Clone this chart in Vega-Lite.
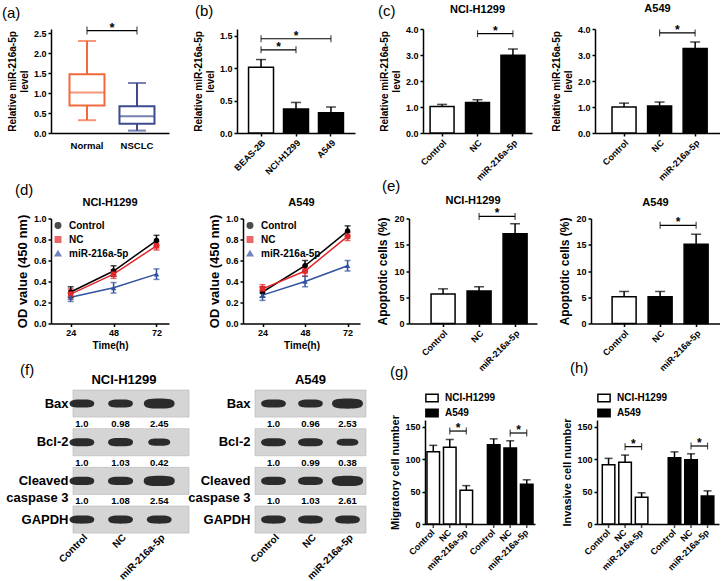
{
"background": "white",
"padding": {"left": 2, "top": 3, "right": 0, "bottom": 0},
"config": {
 "font": "Liberation Sans",
 "view": {"stroke": null},
 "axis": {"grid": false, "labelOverlap": false, "domainColor": "black", "domainWidth": 1.5, "tickColor": "black", "tickWidth": 1.5, "tickSize": 3, "labelColor": "black", "labelFont": "Liberation Sans", "labelFontSize": 9, "labelFontWeight": "bold", "labelPadding": 2, "titleColor": "black", "titleFont": "Liberation Sans", "titleFontSize": 10, "titleFontWeight": "bold", "titlePadding": 4},
 "title": {"font": "Liberation Sans", "fontSize": 11, "fontWeight": "bold", "color": "black", "frame": "group"},
 "legend": {"labelFont": "Liberation Sans", "labelColor": "black"}
},
"datasets": {
 "a_box": [
  {"group": "Normal", "min": 0.32, "q1": 0.69, "median": 1.01, "q3": 1.47, "max": 2.3},
  {"group": "NSCLC", "min": 0.06, "q1": 0.23, "median": 0.42, "q3": 0.67, "max": 1.25}
 ],
 "b_bar": [
  {"cell": "BEAS-2B", "mean": 1.01, "upper": 1.13},
  {"cell": "NCI-H1299", "mean": 0.37, "upper": 0.47},
  {"cell": "A549", "mean": 0.31, "upper": 0.40}
 ],
 "c_bar": [
  {"cell": "NCI-H1299", "group": "Control", "mean": 1.02, "upper": 1.1},
  {"cell": "NCI-H1299", "group": "NC", "mean": 1.17, "upper": 1.28},
  {"cell": "NCI-H1299", "group": "miR-216a-5p", "mean": 2.99, "upper": 3.23},
  {"cell": "A549", "group": "Control", "mean": 1.0, "upper": 1.15},
  {"cell": "A549", "group": "NC", "mean": 1.04, "upper": 1.19},
  {"cell": "A549", "group": "miR-216a-5p", "mean": 3.25, "upper": 3.5}
 ],
 "d_line": [
  {"cell": "NCI-H1299", "group": "Control", "time": 24, "mean": 0.30, "sd": 0.05},
  {"cell": "NCI-H1299", "group": "Control", "time": 48, "mean": 0.50, "sd": 0.05},
  {"cell": "NCI-H1299", "group": "Control", "time": 72, "mean": 0.79, "sd": 0.05},
  {"cell": "NCI-H1299", "group": "NC", "time": 24, "mean": 0.28, "sd": 0.05},
  {"cell": "NCI-H1299", "group": "NC", "time": 48, "mean": 0.47, "sd": 0.04},
  {"cell": "NCI-H1299", "group": "NC", "time": 72, "mean": 0.74, "sd": 0.04},
  {"cell": "NCI-H1299", "group": "miR-216a-5p", "time": 24, "mean": 0.25, "sd": 0.04},
  {"cell": "NCI-H1299", "group": "miR-216a-5p", "time": 48, "mean": 0.34, "sd": 0.05},
  {"cell": "NCI-H1299", "group": "miR-216a-5p", "time": 72, "mean": 0.47, "sd": 0.05},
  {"cell": "A549", "group": "Control", "time": 24, "mean": 0.30, "sd": 0.05},
  {"cell": "A549", "group": "Control", "time": 48, "mean": 0.55, "sd": 0.05},
  {"cell": "A549", "group": "Control", "time": 72, "mean": 0.88, "sd": 0.05},
  {"cell": "A549", "group": "NC", "time": 24, "mean": 0.33, "sd": 0.04},
  {"cell": "A549", "group": "NC", "time": 48, "mean": 0.50, "sd": 0.05},
  {"cell": "A549", "group": "NC", "time": 72, "mean": 0.83, "sd": 0.04},
  {"cell": "A549", "group": "miR-216a-5p", "time": 24, "mean": 0.27, "sd": 0.05},
  {"cell": "A549", "group": "miR-216a-5p", "time": 48, "mean": 0.40, "sd": 0.05},
  {"cell": "A549", "group": "miR-216a-5p", "time": 72, "mean": 0.55, "sd": 0.05}
 ],
 "e_bar": [
  {"cell": "NCI-H1299", "group": "Control", "mean": 5.6, "upper": 6.6},
  {"cell": "NCI-H1299", "group": "NC", "mean": 6.2, "upper": 7.0},
  {"cell": "NCI-H1299", "group": "miR-216a-5p", "mean": 17.1, "upper": 19.0},
  {"cell": "A549", "group": "Control", "mean": 5.1, "upper": 6.1},
  {"cell": "A549", "group": "NC", "mean": 5.1, "upper": 6.1},
  {"cell": "A549", "group": "miR-216a-5p", "mean": 15.1, "upper": 17.0}
 ],
 "f_blot": [
  {"cell": "NCI-H1299", "protein": "Bax", "lane": "Control", "ratio": 1.0, "label": "1.0"},
  {"cell": "NCI-H1299", "protein": "Bax", "lane": "NC", "ratio": 0.98, "label": "0.98"},
  {"cell": "NCI-H1299", "protein": "Bax", "lane": "miR-216a-5p", "ratio": 2.45, "label": "2.45"},
  {"cell": "NCI-H1299", "protein": "Bcl-2", "lane": "Control", "ratio": 1.0, "label": "1.0"},
  {"cell": "NCI-H1299", "protein": "Bcl-2", "lane": "NC", "ratio": 1.03, "label": "1.03"},
  {"cell": "NCI-H1299", "protein": "Bcl-2", "lane": "miR-216a-5p", "ratio": 0.42, "label": "0.42"},
  {"cell": "NCI-H1299", "protein": "Cleaved caspase 3", "lane": "Control", "ratio": 1.0, "label": "1.0"},
  {"cell": "NCI-H1299", "protein": "Cleaved caspase 3", "lane": "NC", "ratio": 1.08, "label": "1.08"},
  {"cell": "NCI-H1299", "protein": "Cleaved caspase 3", "lane": "miR-216a-5p", "ratio": 2.54, "label": "2.54"},
  {"cell": "NCI-H1299", "protein": "GAPDH", "lane": "Control", "ratio": 1.0, "label": ""},
  {"cell": "NCI-H1299", "protein": "GAPDH", "lane": "NC", "ratio": 1.0, "label": ""},
  {"cell": "NCI-H1299", "protein": "GAPDH", "lane": "miR-216a-5p", "ratio": 1.0, "label": ""},
  {"cell": "A549", "protein": "Bax", "lane": "Control", "ratio": 1.0, "label": "1.0"},
  {"cell": "A549", "protein": "Bax", "lane": "NC", "ratio": 0.96, "label": "0.96"},
  {"cell": "A549", "protein": "Bax", "lane": "miR-216a-5p", "ratio": 2.53, "label": "2.53"},
  {"cell": "A549", "protein": "Bcl-2", "lane": "Control", "ratio": 1.0, "label": "1.0"},
  {"cell": "A549", "protein": "Bcl-2", "lane": "NC", "ratio": 0.99, "label": "0.99"},
  {"cell": "A549", "protein": "Bcl-2", "lane": "miR-216a-5p", "ratio": 0.38, "label": "0.38"},
  {"cell": "A549", "protein": "Cleaved caspase 3", "lane": "Control", "ratio": 1.0, "label": "1.0"},
  {"cell": "A549", "protein": "Cleaved caspase 3", "lane": "NC", "ratio": 1.03, "label": "1.03"},
  {"cell": "A549", "protein": "Cleaved caspase 3", "lane": "miR-216a-5p", "ratio": 2.61, "label": "2.61"},
  {"cell": "A549", "protein": "GAPDH", "lane": "Control", "ratio": 1.0, "label": ""},
  {"cell": "A549", "protein": "GAPDH", "lane": "NC", "ratio": 1.0, "label": ""},
  {"cell": "A549", "protein": "GAPDH", "lane": "miR-216a-5p", "ratio": 1.0, "label": ""}
 ],
 "g_bar": [
  {"line": "NCI-H1299", "group": "Control", "mean": 111, "upper": 121},
  {"line": "NCI-H1299", "group": "NC", "mean": 118, "upper": 130},
  {"line": "NCI-H1299", "group": "miR-216a-5p", "mean": 52, "upper": 59},
  {"line": "A549", "group": "Control", "mean": 122, "upper": 131},
  {"line": "A549", "group": "NC", "mean": 117, "upper": 128},
  {"line": "A549", "group": "miR-216a-5p", "mean": 61, "upper": 68}
 ],
 "g_sig": [
  {"line": "NCI-H1299", "group": "NC", "y": 143},
  {"line": "NCI-H1299", "group": "miR-216a-5p", "y": 143},
  {"line": "A549", "group": "NC", "y": 140},
  {"line": "A549", "group": "miR-216a-5p", "y": 140}
 ],
 "h_bar": [
  {"line": "NCI-H1299", "group": "Control", "mean": 91, "upper": 101},
  {"line": "NCI-H1299", "group": "NC", "mean": 95, "upper": 106},
  {"line": "NCI-H1299", "group": "miR-216a-5p", "mean": 41, "upper": 48},
  {"line": "A549", "group": "Control", "mean": 102, "upper": 111},
  {"line": "A549", "group": "NC", "mean": 99, "upper": 108},
  {"line": "A549", "group": "miR-216a-5p", "mean": 43, "upper": 51}
 ],
 "h_sig": [
  {"line": "NCI-H1299", "group": "NC", "y": 119},
  {"line": "NCI-H1299", "group": "miR-216a-5p", "y": 119},
  {"line": "A549", "group": "NC", "y": 120},
  {"line": "A549", "group": "miR-216a-5p", "y": 120}
 ]
},
"vconcat": [
 {
  "vconcat": [
   {
    "hconcat": [
     {
      "width": 118, "height": 104,
      "title": {"text": "(a)", "anchor": "start", "dx": -49, "fontSize": 15, "fontWeight": "normal", "offset": 1},
      "data": {"name": "a_box"},
      "encoding": {
       "x": {"field": "group", "type": "nominal", "sort": null, "scale": {"domain": ["Normal", "NSCLC"], "paddingInner": 0.3, "paddingOuter": 0.33, "align": 0.56}, "axis": {"title": null, "labelAngle": 0, "ticks": false, "labelFontSize": 9.5, "labelPadding": 7}}
      },
      "layer": [
       {"mark": {"type": "rule", "strokeWidth": 2}, "encoding": {"y": {"field": "min", "type": "quantitative", "scale": {"domain": [0, 2.5]}, "axis": {"title": ["Relative miR-216a-5p", "level"], "values": [0, 0.5, 1, 1.5, 2, 2.5], "format": ".1f", "tickCount": 10}}, "y2": {"field": "q1"}, "color": {"field": "group", "type": "nominal", "scale": {"domain": ["Normal", "NSCLC"], "range": ["#f26a3c", "#3d4b8e"]}, "legend": null}}},
       {"mark": {"type": "rule", "strokeWidth": 2}, "encoding": {"y": {"field": "q3", "type": "quantitative", "axis": {"title": ["Relative miR-216a-5p", "level"], "values": [0, 0.5, 1, 1.5, 2, 2.5], "format": ".1f", "tickCount": 10}}, "y2": {"field": "max"}, "color": {"field": "group", "type": "nominal", "legend": null}}},
       {"mark": {"type": "bar", "strokeWidth": 2}, "encoding": {"y": {"field": "q1", "type": "quantitative", "axis": {"title": ["Relative miR-216a-5p", "level"], "values": [0, 0.5, 1, 1.5, 2, 2.5], "format": ".1f", "tickCount": 10}}, "y2": {"field": "q3"}, "color": {"value": "white"}, "stroke": {"field": "group", "type": "nominal", "scale": {"domain": ["Normal", "NSCLC"], "range": ["#f26a3c", "#3d4b8e"]}, "legend": null}}},
       {"mark": {"type": "tick", "thickness": 2, "size": 35}, "encoding": {"y": {"field": "median", "type": "quantitative", "axis": {"title": ["Relative miR-216a-5p", "level"], "values": [0, 0.5, 1, 1.5, 2, 2.5], "format": ".1f", "tickCount": 10}}, "color": {"field": "group", "type": "nominal", "legend": null}}},
       {"mark": {"type": "tick", "thickness": 2, "size": 18}, "encoding": {"y": {"field": "min", "type": "quantitative", "axis": {"title": ["Relative miR-216a-5p", "level"], "values": [0, 0.5, 1, 1.5, 2, 2.5], "format": ".1f", "tickCount": 10}}, "color": {"field": "group", "type": "nominal", "legend": null}}},
       {"mark": {"type": "tick", "thickness": 2, "size": 18}, "encoding": {"y": {"field": "max", "type": "quantitative", "axis": {"title": ["Relative miR-216a-5p", "level"], "values": [0, 0.5, 1, 1.5, 2, 2.5], "format": ".1f", "tickCount": 10}}, "color": {"field": "group", "type": "nominal", "legend": null}}},
       {"data": {"values": [{}]}, "mark": {"type": "rule", "strokeWidth": 1.2, "color": "black"}, "encoding": {"x": {"datum": "Normal"}, "x2": {"datum": "NSCLC"}, "y": {"datum": 2.56}}},
       {"data": {"values": [{}]}, "mark": {"type": "tick", "orient": "vertical", "size": 8, "thickness": 1.2, "color": "black"}, "encoding": {"x": {"datum": "Normal"}, "y": {"datum": 2.56}}},
       {"data": {"values": [{}]}, "mark": {"type": "tick", "orient": "vertical", "size": 8, "thickness": 1.2, "color": "black"}, "encoding": {"x": {"datum": "NSCLC"}, "y": {"datum": 2.56}}},
       {"data": {"values": [{}]}, "mark": {"type": "text", "text": "*", "fontSize": 13, "fontWeight": "bold", "dx": 25, "dy": -3, "baseline": "middle"}, "encoding": {"x": {"datum": "Normal"}, "y": {"datum": 2.56}}}
      ]
     },
     {
      "width": 118, "height": 104,
      "title": {"text": "(b)", "anchor": "start", "dx": -42, "fontSize": 15, "fontWeight": "normal", "offset": 10},
      "data": {"name": "b_bar"},
      "encoding": {
       "x": {"field": "cell", "type": "nominal", "sort": null, "scale": {"domain": ["BEAS-2B", "NCI-H1299", "A549"], "paddingInner": 0.286, "paddingOuter": 0.33}, "axis": {"title": null, "labelAngle": -45, "labelAlign": "right", "labelBaseline": "top"}}
      },
      "layer": [
       {"mark": {"type": "rule", "strokeWidth": 1.5, "color": "black"}, "encoding": {"y": {"field": "mean", "type": "quantitative", "scale": {"domain": [0, 1.5]}, "axis": {"title": ["Relative miR-216a-5p", "level"], "values": [0, 0.5, 1, 1.5], "format": ".1f", "tickCount": 10}}, "y2": {"field": "upper"}}},
       {"mark": {"type": "tick", "size": 10, "thickness": 1.5, "color": "black"}, "encoding": {"y": {"field": "upper", "type": "quantitative", "axis": {"title": ["Relative miR-216a-5p", "level"], "values": [0, 0.5, 1, 1.5], "format": ".1f", "tickCount": 10}}}},
       {"mark": {"type": "bar", "stroke": "black", "strokeWidth": 1.5}, "encoding": {"y": {"field": "mean", "type": "quantitative", "axis": {"title": ["Relative miR-216a-5p", "level"], "values": [0, 0.5, 1, 1.5], "format": ".1f", "tickCount": 10}}, "fill": {"field": "cell", "type": "nominal", "scale": {"domain": ["BEAS-2B", "NCI-H1299", "A549"], "range": ["white", "black", "black"]}, "legend": null}}},
       {"data": {"values": [{}]}, "mark": {"type": "rule", "strokeWidth": 1.2, "color": "black"}, "encoding": {"x": {"datum": "BEAS-2B"}, "x2": {"datum": "NCI-H1299"}, "y": {"datum": 1.28}}},
       {"data": {"values": [{}]}, "mark": {"type": "tick", "orient": "vertical", "size": 7, "thickness": 1.2, "color": "black"}, "encoding": {"x": {"datum": "BEAS-2B"}, "y": {"datum": 1.28}}},
       {"data": {"values": [{}]}, "mark": {"type": "tick", "orient": "vertical", "size": 7, "thickness": 1.2, "color": "black"}, "encoding": {"x": {"datum": "NCI-H1299"}, "y": {"datum": 1.28}}},
       {"data": {"values": [{}]}, "mark": {"type": "text", "text": "*", "fontSize": 12, "fontWeight": "bold", "dx": 17.5, "dy": -3, "baseline": "middle"}, "encoding": {"x": {"datum": "BEAS-2B"}, "y": {"datum": 1.28}}},
       {"data": {"values": [{}]}, "mark": {"type": "rule", "strokeWidth": 1.2, "color": "black"}, "encoding": {"x": {"datum": "BEAS-2B"}, "x2": {"datum": "A549"}, "y": {"datum": 1.45}}},
       {"data": {"values": [{}]}, "mark": {"type": "tick", "orient": "vertical", "size": 7, "thickness": 1.2, "color": "black"}, "encoding": {"x": {"datum": "BEAS-2B"}, "y": {"datum": 1.45}}},
       {"data": {"values": [{}]}, "mark": {"type": "tick", "orient": "vertical", "size": 7, "thickness": 1.2, "color": "black"}, "encoding": {"x": {"datum": "A549"}, "y": {"datum": 1.45}}},
       {"data": {"values": [{}]}, "mark": {"type": "text", "text": "*", "fontSize": 12, "fontWeight": "bold", "dy": -3, "baseline": "middle"}, "encoding": {"x": {"datum": "NCI-H1299"}, "y": {"datum": 1.45}}}
      ]
     },
     {
      "title": {"text": "(c)", "anchor": "start", "dx": -45, "fontSize": 15, "fontWeight": "normal", "offset": -16},
      "hconcat": [
       {
        "width": 109, "height": 104,
        "title": {"text": "NCI-H1299", "offset": 9.5},
        "data": {"name": "c_bar"},
        "transform": [{"filter": "datum.cell === 'NCI-H1299'"}],
        "encoding": {"x": {"field": "group", "type": "nominal", "sort": null, "scale": {"domain": ["Control", "NC", "miR-216a-5p"], "paddingInner": 0.324, "paddingOuter": 0.2}, "axis": {"title": null, "labelAngle": -45, "labelAlign": "right", "labelBaseline": "top"}}},
        "layer": [
         {"mark": {"type": "rule", "strokeWidth": 1.5, "color": "black"}, "encoding": {"y": {"field": "mean", "type": "quantitative", "scale": {"domain": [0, 4]}, "axis": {"title": ["Relative miR-216a-5p", "level"], "values": [0, 1, 2, 3, 4], "tickCount": 10}}, "y2": {"field": "upper"}}},
         {"mark": {"type": "tick", "size": 10, "thickness": 1.5, "color": "black"}, "encoding": {"y": {"field": "upper", "type": "quantitative", "axis": {"title": ["Relative miR-216a-5p", "level"], "values": [0, 1, 2, 3, 4], "tickCount": 10}}}},
         {"mark": {"type": "bar", "stroke": "black", "strokeWidth": 1.5}, "encoding": {"y": {"field": "mean", "type": "quantitative", "axis": {"title": ["Relative miR-216a-5p", "level"], "values": [0, 1, 2, 3, 4], "tickCount": 10}}, "fill": {"field": "group", "type": "nominal", "scale": {"domain": ["Control", "NC", "miR-216a-5p"], "range": ["white", "black", "black"]}, "legend": null}}},
         {"data": {"values": [{}]}, "mark": {"type": "rule", "strokeWidth": 1.2, "color": "black"}, "encoding": {"x": {"datum": "NC"}, "x2": {"datum": "miR-216a-5p"}, "y": {"datum": 3.82}}},
         {"data": {"values": [{}]}, "mark": {"type": "tick", "orient": "vertical", "size": 7, "thickness": 1.2, "color": "black"}, "encoding": {"x": {"datum": "NC"}, "y": {"datum": 3.82}}},
         {"data": {"values": [{}]}, "mark": {"type": "tick", "orient": "vertical", "size": 7, "thickness": 1.2, "color": "black"}, "encoding": {"x": {"datum": "miR-216a-5p"}, "y": {"datum": 3.82}}},
         {"data": {"values": [{}]}, "mark": {"type": "text", "text": "*", "fontSize": 12, "fontWeight": "bold", "dx": 17.75, "dy": -3, "baseline": "middle"}, "encoding": {"x": {"datum": "NC"}, "y": {"datum": 3.82}}}
        ]
       },
       {
        "width": 125, "height": 104,
        "title": {"text": "A549", "offset": 9.5},
        "data": {"name": "c_bar"},
        "transform": [{"filter": "datum.cell === 'A549'"}],
        "encoding": {"x": {"field": "group", "type": "nominal", "sort": null, "scale": {"domain": ["Control", "NC", "miR-216a-5p"], "paddingInner": 0.324, "paddingOuter": 0.42, "align": 0.57}, "axis": {"title": null, "labelAngle": -45, "labelAlign": "right", "labelBaseline": "top"}}},
        "layer": [
         {"mark": {"type": "rule", "strokeWidth": 1.5, "color": "black"}, "encoding": {"y": {"field": "mean", "type": "quantitative", "scale": {"domain": [0, 4]}, "axis": {"title": ["Relative miR-216a-5p", "level"], "values": [0, 1, 2, 3, 4], "tickCount": 10}}, "y2": {"field": "upper"}}},
         {"mark": {"type": "tick", "size": 10, "thickness": 1.5, "color": "black"}, "encoding": {"y": {"field": "upper", "type": "quantitative", "axis": {"title": ["Relative miR-216a-5p", "level"], "values": [0, 1, 2, 3, 4], "tickCount": 10}}}},
         {"mark": {"type": "bar", "stroke": "black", "strokeWidth": 1.5}, "encoding": {"y": {"field": "mean", "type": "quantitative", "axis": {"title": ["Relative miR-216a-5p", "level"], "values": [0, 1, 2, 3, 4], "tickCount": 10}}, "fill": {"field": "group", "type": "nominal", "scale": {"domain": ["Control", "NC", "miR-216a-5p"], "range": ["white", "black", "black"]}, "legend": null}}},
         {"data": {"values": [{}]}, "mark": {"type": "rule", "strokeWidth": 1.2, "color": "black"}, "encoding": {"x": {"datum": "NC"}, "x2": {"datum": "miR-216a-5p"}, "y": {"datum": 3.85}}},
         {"data": {"values": [{}]}, "mark": {"type": "tick", "orient": "vertical", "size": 7, "thickness": 1.2, "color": "black"}, "encoding": {"x": {"datum": "NC"}, "y": {"datum": 3.85}}},
         {"data": {"values": [{}]}, "mark": {"type": "tick", "orient": "vertical", "size": 7, "thickness": 1.2, "color": "black"}, "encoding": {"x": {"datum": "miR-216a-5p"}, "y": {"datum": 3.85}}},
         {"data": {"values": [{}]}, "mark": {"type": "text", "text": "*", "fontSize": 12, "fontWeight": "bold", "dx": 17.75, "dy": -3, "baseline": "middle"}, "encoding": {"x": {"datum": "NC"}, "y": {"datum": 3.85}}}
        ]
       }
      ],
      "spacing": 63, "bounds": "flush",
      "resolve": {"scale": {"color": "independent", "fill": "independent", "stroke": "independent", "shape": "independent", "size": "independent"}, "legend": {"color": "independent", "fill": "independent", "stroke": "independent", "shape": "independent", "size": "independent"}}
     }
    ],
    "spacing": 68, "bounds": "flush",
    "resolve": {"scale": {"color": "independent", "fill": "independent", "stroke": "independent", "shape": "independent", "size": "independent"}, "legend": {"color": "independent", "fill": "independent", "stroke": "independent", "shape": "independent", "size": "independent"}}
   },
   {
    "title": {"text": "(d)", "anchor": "start", "dx": -36, "fontSize": 15, "fontWeight": "normal", "offset": -19},
    "hconcat": [
     {
      "width": 118, "height": 105,
      "title": {"text": "NCI-H1299", "offset": 6},
      "data": {"name": "d_line"},
      "transform": [{"filter": "datum.cell === 'NCI-H1299'"}],
      "encoding": {
       "x": {"field": "time", "type": "quantitative", "scale": {"domain": [13, 79]}, "axis": {"title": "Time(h)", "values": [24, 48, 72], "titlePadding": 3}},
       "color": {"field": "group", "type": "nominal", "sort": null, "scale": {"domain": ["Control", "NC", "miR-216a-5p"], "range": ["#000000", "#e3262a", "#3152a0"]}, "legend": {"orient": "top-left", "title": null, "offset": 2, "padding": 0, "rowPadding": 2, "symbolSize": 30, "labelFontSize": 10, "labelFontWeight": "bold", "labelOffset": 6}}
      },
      "layer": [
       {"mark": {"type": "line", "strokeWidth": 1.5}, "encoding": {"y": {"field": "mean", "type": "quantitative", "scale": {"domain": [0, 1]}, "axis": {"title": "OD value (450 nm)", "values": [0, 0.2, 0.4, 0.6, 0.8, 1], "format": ".1f", "titleFontSize": 13, "tickCount": 10}}}},
       {"mark": {"type": "errorbar", "ticks": {"size": 6}, "thickness": 1.5}, "encoding": {"y": {"field": "mean", "type": "quantitative", "axis": {"title": "OD value (450 nm)", "values": [0, 0.2, 0.4, 0.6, 0.8, 1], "format": ".1f", "titleFontSize": 13, "tickCount": 10}}, "yError": {"field": "sd"}}},
       {"mark": {"type": "point", "filled": true, "size": 30, "opacity": 1}, "encoding": {"y": {"field": "mean", "type": "quantitative", "axis": {"title": "OD value (450 nm)", "values": [0, 0.2, 0.4, 0.6, 0.8, 1], "format": ".1f", "titleFontSize": 13, "tickCount": 10}}, "shape": {"field": "group", "type": "nominal", "sort": null, "scale": {"domain": ["Control", "NC", "miR-216a-5p"], "range": ["circle", "square", "triangle-up"]}, "legend": {"orient": "top-left", "title": null, "offset": 2, "padding": 0, "rowPadding": 2, "symbolSize": 30, "labelFontSize": 10, "labelFontWeight": "bold", "labelOffset": 6}}}},
       {"data": {"values": [{}]}, "mark": {"type": "rule", "strokeWidth": 1.5}, "encoding": {"x": {"datum": 79.6}, "y": {"datum": 0.47}, "y2": {"datum": 0.76}, "color": {"value": "black"}}},
       {"data": {"values": [{}]}, "mark": {"type": "rule", "strokeWidth": 1.5}, "encoding": {"x": {"datum": 75.6}, "x2": {"datum": 79.6}, "y": {"datum": 0.47}, "color": {"value": "black"}}},
       {"data": {"values": [{}]}, "mark": {"type": "rule", "strokeWidth": 1.5}, "encoding": {"x": {"datum": 75.6}, "x2": {"datum": 79.6}, "y": {"datum": 0.76}, "color": {"value": "black"}}},
       {"data": {"values": [{}]}, "mark": {"type": "text", "text": "*", "fontSize": 12, "fontWeight": "bold", "dx": 4, "dy": 2, "align": "left", "baseline": "middle"}, "encoding": {"x": {"datum": 79.6}, "y": {"datum": 0.615}, "color": {"value": "black"}}}
      ]
     },
     {
      "hconcat": [
       {
        "width": 117, "height": 105,
        "title": {"text": "A549", "offset": 6},
        "data": {"name": "d_line"},
        "transform": [{"filter": "datum.cell === 'A549'"}],
        "encoding": {
         "x": {"field": "time", "type": "quantitative", "scale": {"domain": [13, 79]}, "axis": {"title": "Time(h)", "values": [24, 48, 72], "titlePadding": 3}},
         "color": {"field": "group", "type": "nominal", "sort": null, "scale": {"domain": ["Control", "NC", "miR-216a-5p"], "range": ["#000000", "#e3262a", "#3152a0"]}, "legend": {"orient": "top-left", "title": null, "offset": 2, "padding": 0, "rowPadding": 2, "symbolSize": 30, "labelFontSize": 10, "labelFontWeight": "bold", "labelOffset": 6}}
        },
        "layer": [
         {"mark": {"type": "line", "strokeWidth": 1.5}, "encoding": {"y": {"field": "mean", "type": "quantitative", "scale": {"domain": [0, 1]}, "axis": {"title": "OD value (450 nm)", "values": [0, 0.2, 0.4, 0.6, 0.8, 1], "format": ".1f", "titleFontSize": 13, "tickCount": 10}}}},
         {"mark": {"type": "errorbar", "ticks": {"size": 6}, "thickness": 1.5}, "encoding": {"y": {"field": "mean", "type": "quantitative", "axis": {"title": "OD value (450 nm)", "values": [0, 0.2, 0.4, 0.6, 0.8, 1], "format": ".1f", "titleFontSize": 13, "tickCount": 10}}, "yError": {"field": "sd"}}},
         {"mark": {"type": "point", "filled": true, "size": 30, "opacity": 1}, "encoding": {"y": {"field": "mean", "type": "quantitative", "axis": {"title": "OD value (450 nm)", "values": [0, 0.2, 0.4, 0.6, 0.8, 1], "format": ".1f", "titleFontSize": 13, "tickCount": 10}}, "shape": {"field": "group", "type": "nominal", "sort": null, "scale": {"domain": ["Control", "NC", "miR-216a-5p"], "range": ["circle", "square", "triangle-up"]}, "legend": {"orient": "top-left", "title": null, "offset": 2, "padding": 0, "rowPadding": 2, "symbolSize": 30, "labelFontSize": 10, "labelFontWeight": "bold", "labelOffset": 6}}}},
         {"data": {"values": [{}]}, "mark": {"type": "rule", "strokeWidth": 1.5}, "encoding": {"x": {"datum": 79.6}, "y": {"datum": 0.53}, "y2": {"datum": 0.82}, "color": {"value": "black"}}},
         {"data": {"values": [{}]}, "mark": {"type": "rule", "strokeWidth": 1.5}, "encoding": {"x": {"datum": 75.6}, "x2": {"datum": 79.6}, "y": {"datum": 0.53}, "color": {"value": "black"}}},
         {"data": {"values": [{}]}, "mark": {"type": "rule", "strokeWidth": 1.5}, "encoding": {"x": {"datum": 75.6}, "x2": {"datum": 79.6}, "y": {"datum": 0.82}, "color": {"value": "black"}}},
         {"data": {"values": [{}]}, "mark": {"type": "text", "text": "*", "fontSize": 12, "fontWeight": "bold", "dx": 4, "dy": 2, "align": "left", "baseline": "middle"}, "encoding": {"x": {"datum": 79.6}, "y": {"datum": 0.675}, "color": {"value": "black"}}}
        ]
       },
       {
        "title": {"text": "(e)", "anchor": "start", "dx": -27, "fontSize": 15, "fontWeight": "normal", "offset": 1},
        "hconcat": [
         {
          "width": 128, "height": 105,
          "title": {"text": "NCI-H1299", "offset": 1},
          "data": {"name": "e_bar"},
          "transform": [{"filter": "datum.cell === 'NCI-H1299'"}],
          "encoding": {"x": {"field": "group", "type": "nominal", "sort": null, "scale": {"domain": ["Control", "NC", "miR-216a-5p"], "paddingInner": 0.333, "paddingOuter": 0.444, "align": 0.69}, "axis": {"title": null, "labelAngle": -45, "labelAlign": "right", "labelBaseline": "top"}}},
          "layer": [
           {"mark": {"type": "rule", "strokeWidth": 1.5, "color": "black"}, "encoding": {"y": {"field": "mean", "type": "quantitative", "scale": {"domain": [0, 20]}, "axis": {"title": "Apoptotic cells (%)", "values": [0, 5, 10, 15, 20], "titleFontSize": 12, "tickCount": 10}}, "y2": {"field": "upper"}}},
           {"mark": {"type": "tick", "size": 10, "thickness": 1.5, "color": "black"}, "encoding": {"y": {"field": "upper", "type": "quantitative", "axis": {"title": "Apoptotic cells (%)", "values": [0, 5, 10, 15, 20], "titleFontSize": 12, "tickCount": 10}}}},
           {"mark": {"type": "bar", "stroke": "black", "strokeWidth": 1.5}, "encoding": {"y": {"field": "mean", "type": "quantitative", "axis": {"title": "Apoptotic cells (%)", "values": [0, 5, 10, 15, 20], "titleFontSize": 12, "tickCount": 10}}, "fill": {"field": "group", "type": "nominal", "scale": {"domain": ["Control", "NC", "miR-216a-5p"], "range": ["white", "black", "black"]}, "legend": null}}},
           {"data": {"values": [{}]}, "mark": {"type": "rule", "strokeWidth": 1.2, "color": "black"}, "encoding": {"x": {"datum": "NC"}, "x2": {"datum": "miR-216a-5p"}, "y": {"datum": 20.4}}},
           {"data": {"values": [{}]}, "mark": {"type": "tick", "orient": "vertical", "size": 7, "thickness": 1.2, "color": "black"}, "encoding": {"x": {"datum": "NC"}, "y": {"datum": 20.4}}},
           {"data": {"values": [{}]}, "mark": {"type": "tick", "orient": "vertical", "size": 7, "thickness": 1.2, "color": "black"}, "encoding": {"x": {"datum": "miR-216a-5p"}, "y": {"datum": 20.4}}},
           {"data": {"values": [{}]}, "mark": {"type": "text", "text": "*", "fontSize": 12, "fontWeight": "bold", "dx": 18, "dy": -3, "baseline": "middle"}, "encoding": {"x": {"datum": "NC"}, "y": {"datum": 20.4}}}
          ]
         },
         {
          "width": 129, "height": 105,
          "title": {"text": "A549", "offset": 7},
          "data": {"name": "e_bar"},
          "transform": [{"filter": "datum.cell === 'A549'"}],
          "encoding": {"x": {"field": "group", "type": "nominal", "sort": null, "scale": {"domain": ["Control", "NC", "miR-216a-5p"], "paddingInner": 0.333, "paddingOuter": 0.458, "align": 0.64}, "axis": {"title": null, "labelAngle": -45, "labelAlign": "right", "labelBaseline": "top"}}},
          "layer": [
           {"mark": {"type": "rule", "strokeWidth": 1.5, "color": "black"}, "encoding": {"y": {"field": "mean", "type": "quantitative", "scale": {"domain": [0, 20]}, "axis": {"title": "Apoptotic cells (%)", "values": [0, 5, 10, 15, 20], "titleFontSize": 12, "tickCount": 10}}, "y2": {"field": "upper"}}},
           {"mark": {"type": "tick", "size": 10, "thickness": 1.5, "color": "black"}, "encoding": {"y": {"field": "upper", "type": "quantitative", "axis": {"title": "Apoptotic cells (%)", "values": [0, 5, 10, 15, 20], "titleFontSize": 12, "tickCount": 10}}}},
           {"mark": {"type": "bar", "stroke": "black", "strokeWidth": 1.5}, "encoding": {"y": {"field": "mean", "type": "quantitative", "axis": {"title": "Apoptotic cells (%)", "values": [0, 5, 10, 15, 20], "titleFontSize": 12, "tickCount": 10}}, "fill": {"field": "group", "type": "nominal", "scale": {"domain": ["Control", "NC", "miR-216a-5p"], "range": ["white", "black", "black"]}, "legend": null}}},
           {"data": {"values": [{}]}, "mark": {"type": "rule", "strokeWidth": 1.2, "color": "black"}, "encoding": {"x": {"datum": "NC"}, "x2": {"datum": "miR-216a-5p"}, "y": {"datum": 18.7}}},
           {"data": {"values": [{}]}, "mark": {"type": "tick", "orient": "vertical", "size": 7, "thickness": 1.2, "color": "black"}, "encoding": {"x": {"datum": "NC"}, "y": {"datum": 18.7}}},
           {"data": {"values": [{}]}, "mark": {"type": "tick", "orient": "vertical", "size": 7, "thickness": 1.2, "color": "black"}, "encoding": {"x": {"datum": "miR-216a-5p"}, "y": {"datum": 18.7}}},
           {"data": {"values": [{}]}, "mark": {"type": "text", "text": "*", "fontSize": 12, "fontWeight": "bold", "dx": 18, "dy": -3, "baseline": "middle"}, "encoding": {"x": {"datum": "NC"}, "y": {"datum": 18.7}}}
          ]
         }
        ],
        "spacing": 54, "bounds": "flush",
        "resolve": {"scale": {"color": "independent", "fill": "independent", "stroke": "independent", "shape": "independent", "size": "independent"}, "legend": {"color": "independent", "fill": "independent", "stroke": "independent", "shape": "independent", "size": "independent"}}
       }
      ],
      "spacing": 49, "bounds": "flush",
      "resolve": {"scale": {"color": "independent", "fill": "independent", "stroke": "independent", "shape": "independent", "size": "independent"}, "legend": {"color": "independent", "fill": "independent", "stroke": "independent", "shape": "independent", "size": "independent"}}
     }
    ],
    "spacing": 74, "bounds": "flush",
    "resolve": {"scale": {"color": "independent", "fill": "independent", "stroke": "independent", "shape": "independent", "size": "independent"}, "legend": {"color": "independent", "fill": "independent", "stroke": "independent", "shape": "independent", "size": "independent"}}
   }
  ],
  "spacing": -4.5, "bounds": "full",
  "resolve": {"scale": {"color": "independent", "fill": "independent", "stroke": "independent", "shape": "independent", "size": "independent"}, "legend": {"color": "independent", "fill": "independent", "stroke": "independent", "shape": "independent", "size": "independent"}}
 },
 {
  "hconcat": [
   {"width": 1, "height": 1, "data": {"values": [{}]}, "mark": {"type": "point", "opacity": 0}},
   {
    "title": {"text": "(f)", "anchor": "start", "dx": -53, "fontSize": 15, "fontWeight": "normal", "offset": -17},
    "hconcat": [
     {
      "width": 116, "height": 164,
      "title": {"text": "NCI-H1299", "fontSize": 13, "offset": 3, "dx": -7},
      "data": {"name": "f_blot"},
      "transform": [{"filter": "datum.cell === 'NCI-H1299'"}],
      "encoding": {
       "y": {"field": "protein", "type": "nominal", "sort": null, "scale": {"domain": ["Bax", "Bcl-2", "Cleaved caspase 3", "GAPDH"], "paddingInner": 0.3, "paddingOuter": 0.27, "align": 0}, "axis": {"title": null, "domain": false, "ticks": false, "labelFontSize": 13, "labelPadding": 5, "labelLineHeight": 17, "labelExpr": "datum.label === 'Cleaved caspase 3' ? ['Cleaved', 'caspase 3'] : datum.label"}}
      },
      "layer": [
       {"transform": [{"filter": "datum.lane === 'Control'"}], "mark": {"type": "rect", "fill": "#d5d5d5", "stroke": "#b5b5b5", "strokeWidth": 0.6}},
       {"mark": {"type": "point", "shape": "M-1,0C-1,-0.3 -0.6,-0.33 0,-0.33C0.6,-0.33 1,-0.3 1,0C1,0.3 0.6,0.33 0,0.33C-0.6,0.33 -1,0.3 -1,0Z", "filled": true, "fill": "#1c1c1c", "opacity": 0.92, "strokeWidth": 0},
        "encoding": {"x": {"field": "lane", "type": "nominal", "sort": null, "scale": {"domain": ["Control", "NC", "miR-216a-5p"], "paddingInner": 0, "paddingOuter": 0.157, "align": 0.23}, "axis": {"title": null, "domain": false, "ticks": false, "labelAngle": -45, "labelAlign": "right", "labelBaseline": "top", "labelFontSize": 10, "offset": -23, "labelPadding": 1}}, "size": {"field": "ratio", "type": "quantitative", "scale": {"domain": [0.3, 2.7], "range": [450, 1000]}, "legend": null}}},
       {"transform": [{"filter": "datum.protein !== 'GAPDH'"}], "mark": {"type": "text", "fontSize": 9.5, "fontWeight": "bold", "dy": 7, "baseline": "middle"},
        "encoding": {"x": {"field": "lane", "type": "nominal", "sort": null, "axis": {"title": null, "domain": false, "ticks": false, "labelAngle": -45, "labelAlign": "right", "labelBaseline": "top", "labelFontSize": 10, "offset": -23, "labelPadding": 1}}, "y": {"field": "protein", "type": "nominal", "sort": null, "bandPosition": 1}, "text": {"field": "label"}}}
      ]
     },
     {
      "hconcat": [
       {
        "width": 111, "height": 164,
        "title": {"text": "A549", "fontSize": 13, "offset": 3},
        "data": {"name": "f_blot"},
        "transform": [{"filter": "datum.cell === 'A549'"}],
        "encoding": {
         "y": {"field": "protein", "type": "nominal", "sort": null, "scale": {"domain": ["Bax", "Bcl-2", "Cleaved caspase 3", "GAPDH"], "paddingInner": 0.3, "paddingOuter": 0.27, "align": 0}, "axis": {"title": null, "domain": false, "ticks": false, "labelFontSize": 13, "labelPadding": 5, "labelLineHeight": 17, "labelExpr": "datum.label === 'Cleaved caspase 3' ? ['Cleaved', 'caspase 3'] : datum.label"}}
        },
        "layer": [
         {"transform": [{"filter": "datum.lane === 'Control'"}], "mark": {"type": "rect", "fill": "#d5d5d5", "stroke": "#b5b5b5", "strokeWidth": 0.6}},
         {"mark": {"type": "point", "shape": "M-1,0C-1,-0.3 -0.6,-0.33 0,-0.33C0.6,-0.33 1,-0.3 1,0C1,0.3 0.6,0.33 0,0.33C-0.6,0.33 -1,0.3 -1,0Z", "filled": true, "fill": "#1c1c1c", "opacity": 0.92, "strokeWidth": 0},
          "encoding": {"x": {"field": "lane", "type": "nominal", "sort": null, "scale": {"domain": ["Control", "NC", "miR-216a-5p"], "paddingInner": 0, "paddingOuter": 0.03}, "axis": {"title": null, "domain": false, "ticks": false, "labelAngle": -45, "labelAlign": "right", "labelBaseline": "top", "labelFontSize": 10, "offset": -23, "labelPadding": 1}}, "size": {"field": "ratio", "type": "quantitative", "scale": {"domain": [0.3, 2.7], "range": [450, 1000]}, "legend": null}}},
         {"transform": [{"filter": "datum.protein !== 'GAPDH'"}], "mark": {"type": "text", "fontSize": 9.5, "fontWeight": "bold", "dy": 7, "baseline": "middle"},
          "encoding": {"x": {"field": "lane", "type": "nominal", "sort": null, "axis": {"title": null, "domain": false, "ticks": false, "labelAngle": -45, "labelAlign": "right", "labelBaseline": "top", "labelFontSize": 10, "offset": -23, "labelPadding": 1}}, "y": {"field": "protein", "type": "nominal", "sort": null, "bandPosition": 1}, "text": {"field": "label"}}}
        ]
       },
       {
        "vconcat": [
         {"width": 1, "height": 1, "data": {"values": [{}]}, "mark": {"type": "point", "opacity": 0}},
         {
          "hconcat": [
           {
            "width": 110, "height": 104,
            "title": {"text": "(g)", "anchor": "start", "dx": -35, "fontSize": 15, "fontWeight": "normal", "offset": 11},
            "data": {"name": "g_bar"},
            "encoding": {
             "x": {"field": "line", "type": "nominal", "sort": null, "scale": {"domain": ["NCI-H1299", "A549"], "paddingInner": 0.18, "paddingOuter": 0}, "axis": {"title": null, "labels": false, "ticks": false}},
             "xOffset": {"field": "group", "type": "nominal", "sort": null, "scale": {"domain": ["Control", "NC", "miR-216a-5p"], "paddingInner": 0.24, "paddingOuter": 0.12}}
            },
            "layer": [
             {"mark": {"type": "rule", "strokeWidth": 1.5, "color": "black"}, "encoding": {"y": {"field": "mean", "type": "quantitative", "scale": {"domain": [0, 150]}, "axis": {"title": "Migratory cell number", "values": [0, 50, 100, 150], "titleFontSize": 11, "tickCount": 10}}, "y2": {"field": "upper"}}},
             {"mark": {"type": "tick", "size": 8, "thickness": 1.5, "color": "black"}, "encoding": {"y": {"field": "upper", "type": "quantitative", "axis": {"title": "Migratory cell number", "values": [0, 50, 100, 150], "titleFontSize": 11, "tickCount": 10}}}},
             {"mark": {"type": "bar", "stroke": "black", "strokeWidth": 1.5}, "encoding": {"y": {"field": "mean", "type": "quantitative", "axis": {"title": "Migratory cell number", "values": [0, 50, 100, 150], "titleFontSize": 11, "tickCount": 10}}, "fill": {"field": "line", "type": "nominal", "sort": null, "scale": {"domain": ["NCI-H1299", "A549"], "range": ["white", "black"]}, "legend": {"orient": "top", "direction": "vertical", "title": null, "symbolType": "M-1,-0.6H1V0.6H-1Z", "symbolSize": 150, "symbolStrokeColor": "black", "symbolStrokeWidth": 1.5, "labelFontSize": 10, "labelFontWeight": "bold", "rowPadding": 1, "offset": 0, "padding": 0, "labelOffset": 6}}}},
             {"mark": {"type": "tick", "orient": "vertical", "size": 4, "thickness": 1.5, "color": "black", "yOffset": 2}, "encoding": {"y": {"datum": 0}}},
             {"mark": {"type": "text", "angle": 315, "align": "right", "baseline": "middle", "fontSize": 9, "fontWeight": "bold", "yOffset": 7}, "encoding": {"y": {"datum": 0}, "text": {"field": "group"}}},
             {"data": {"name": "g_sig"}, "mark": {"type": "line", "strokeWidth": 1.2, "color": "black"}, "encoding": {"y": {"field": "y", "type": "quantitative", "axis": {"title": "Migratory cell number", "values": [0, 50, 100, 150], "titleFontSize": 11, "tickCount": 10}}, "detail": {"field": "line"}}},
             {"data": {"name": "g_sig"}, "mark": {"type": "tick", "orient": "vertical", "size": 7, "thickness": 1.2, "color": "black"}, "encoding": {"y": {"field": "y", "type": "quantitative", "axis": {"title": "Migratory cell number", "values": [0, 50, 100, 150], "titleFontSize": 11, "tickCount": 10}}}},
             {"data": {"name": "g_sig"}, "transform": [{"filter": "datum.group === 'NC'"}], "mark": {"type": "text", "text": "*", "fontSize": 12, "fontWeight": "bold", "dx": 8.25, "dy": -3, "baseline": "middle"}, "encoding": {"y": {"field": "y", "type": "quantitative", "axis": {"title": "Migratory cell number", "values": [0, 50, 100, 150], "titleFontSize": 11, "tickCount": 10}}}}
            ]
           },
           {
            "width": 122, "height": 104,
            "title": {"text": "(h)", "anchor": "start", "dx": -27, "fontSize": 15, "fontWeight": "normal", "offset": 15},
            "data": {"name": "h_bar"},
            "encoding": {
             "x": {"field": "line", "type": "nominal", "sort": null, "scale": {"domain": ["NCI-H1299", "A549"], "paddingInner": 0.25, "paddingOuter": 0.05}, "axis": {"title": null, "labels": false, "ticks": false}},
             "xOffset": {"field": "group", "type": "nominal", "sort": null, "scale": {"domain": ["Control", "NC", "miR-216a-5p"], "paddingInner": 0.24, "paddingOuter": 0.12}}
            },
            "layer": [
             {"mark": {"type": "rule", "strokeWidth": 1.5, "color": "black"}, "encoding": {"y": {"field": "mean", "type": "quantitative", "scale": {"domain": [0, 150]}, "axis": {"title": "Invasive cell number", "values": [0, 50, 100, 150], "titleFontSize": 11, "tickCount": 10}}, "y2": {"field": "upper"}}},
             {"mark": {"type": "tick", "size": 8, "thickness": 1.5, "color": "black"}, "encoding": {"y": {"field": "upper", "type": "quantitative", "axis": {"title": "Invasive cell number", "values": [0, 50, 100, 150], "titleFontSize": 11, "tickCount": 10}}}},
             {"mark": {"type": "bar", "stroke": "black", "strokeWidth": 1.5}, "encoding": {"y": {"field": "mean", "type": "quantitative", "axis": {"title": "Invasive cell number", "values": [0, 50, 100, 150], "titleFontSize": 11, "tickCount": 10}}, "fill": {"field": "line", "type": "nominal", "sort": null, "scale": {"domain": ["NCI-H1299", "A549"], "range": ["white", "black"]}, "legend": {"orient": "top", "direction": "vertical", "title": null, "symbolType": "M-1,-0.6H1V0.6H-1Z", "symbolSize": 150, "symbolStrokeColor": "black", "symbolStrokeWidth": 1.5, "labelFontSize": 10, "labelFontWeight": "bold", "rowPadding": 1, "offset": 0, "padding": 0, "labelOffset": 6}}}},
             {"mark": {"type": "tick", "orient": "vertical", "size": 4, "thickness": 1.5, "color": "black", "yOffset": 2}, "encoding": {"y": {"datum": 0}}},
             {"mark": {"type": "text", "angle": 315, "align": "right", "baseline": "middle", "fontSize": 9, "fontWeight": "bold", "yOffset": 7}, "encoding": {"y": {"datum": 0}, "text": {"field": "group"}}},
             {"data": {"name": "h_sig"}, "mark": {"type": "line", "strokeWidth": 1.2, "color": "black"}, "encoding": {"y": {"field": "y", "type": "quantitative", "axis": {"title": "Invasive cell number", "values": [0, 50, 100, 150], "titleFontSize": 11, "tickCount": 10}}, "detail": {"field": "line"}}},
             {"data": {"name": "h_sig"}, "mark": {"type": "tick", "orient": "vertical", "size": 7, "thickness": 1.2, "color": "black"}, "encoding": {"y": {"field": "y", "type": "quantitative", "axis": {"title": "Invasive cell number", "values": [0, 50, 100, 150], "titleFontSize": 11, "tickCount": 10}}}},
             {"data": {"name": "h_sig"}, "transform": [{"filter": "datum.group === 'NC'"}], "mark": {"type": "text", "text": "*", "fontSize": 12, "fontWeight": "bold", "dx": 8.25, "dy": -3, "baseline": "middle"}, "encoding": {"y": {"field": "y", "type": "quantitative", "axis": {"title": "Invasive cell number", "values": [0, 50, 100, 150], "titleFontSize": 11, "tickCount": 10}}}}
            ]
           }
          ],
          "spacing": 62, "bounds": "flush",
          "resolve": {"scale": {"color": "independent", "fill": "independent", "stroke": "independent", "shape": "independent", "size": "independent"}, "legend": {"color": "independent", "fill": "independent", "stroke": "independent", "shape": "independent", "size": "independent"}}
         }
        ],
        "spacing": 29, "bounds": "flush",
        "resolve": {"scale": {"color": "independent", "fill": "independent", "stroke": "independent", "shape": "independent", "size": "independent"}, "legend": {"color": "independent", "fill": "independent", "stroke": "independent", "shape": "independent", "size": "independent"}}
       }
      ],
      "spacing": 59, "bounds": "flush",
      "resolve": {"scale": {"color": "independent", "fill": "independent", "stroke": "independent", "shape": "independent", "size": "independent"}, "legend": {"color": "independent", "fill": "independent", "stroke": "independent", "shape": "independent", "size": "independent"}}
     }
    ],
    "spacing": 66, "bounds": "flush",
    "resolve": {"scale": {"color": "independent", "fill": "independent", "stroke": "independent", "shape": "independent", "size": "independent"}, "legend": {"color": "independent", "fill": "independent", "stroke": "independent", "shape": "independent", "size": "independent"}}
   }
  ],
  "spacing": 21, "bounds": "flush",
  "resolve": {"scale": {"color": "independent", "fill": "independent", "stroke": "independent", "shape": "independent", "size": "independent"}, "legend": {"color": "independent", "fill": "independent", "stroke": "independent", "shape": "independent", "size": "independent"}}
 }
],
"spacing": -12, "bounds": "full",
"resolve": {"scale": {"color": "independent", "fill": "independent", "stroke": "independent", "shape": "independent", "size": "independent"}, "legend": {"color": "independent", "fill": "independent", "stroke": "independent", "shape": "independent", "size": "independent"}}
}
